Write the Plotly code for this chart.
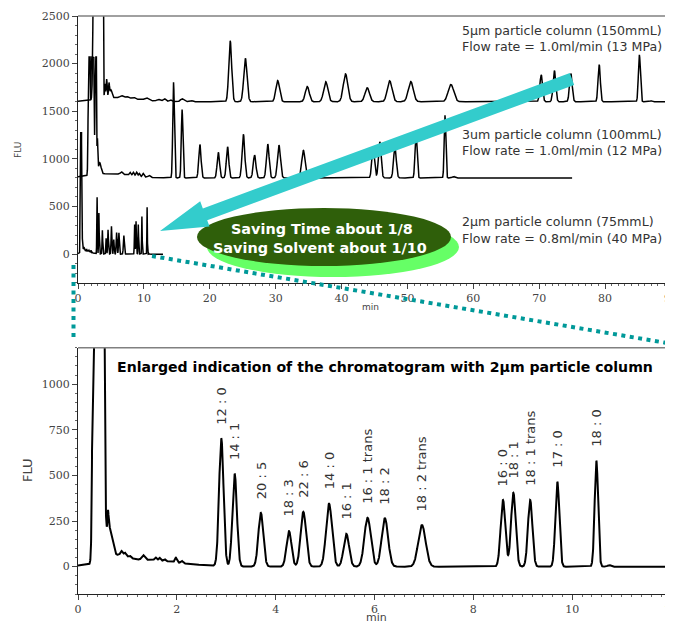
import numpy as np
import plotly.graph_objects as go

# ---------------- data ----------------
# 2 µm particle column – identified fatty-acid peaks (enlarged chromatogram)
FA_LABELS = ["12 : 0", "14 : 1", "20 : 5", "18 : 3", "22 : 6", "14 : 0", "16 : 1",
             "16 : 1 trans", "18 : 2", "18 : 2 trans", "16 : 0", "18 : 1",
             "18 : 1 trans", "17 : 0", "18 : 0"]
FA_TIMES = [2.90, 3.17, 3.70, 4.27, 4.56, 5.08, 5.43, 5.86, 6.21, 6.96, 8.60, 8.81, 9.15, 9.70, 10.49]
FA_HEIGHTS = [700, 508, 295, 195, 300, 345, 180, 268, 265, 228, 365, 405, 365, 465, 580]
FA_SIGMAS = [0.045, 0.045, 0.05, 0.05, 0.055, 0.06, 0.055, 0.065, 0.065, 0.075, 0.047, 0.047, 0.045, 0.04, 0.035]
# 2 µm solvent front and small baseline disturbances
FRONT2_TIMES = [0.33, 0.42, 0.50, 0.607, 0.62, 0.73, 0.85, 0.88, 0.95, 1.05, 1.3, 1.32, 1.57, 1.65, 1.75, 1.98, 2.10, 10.75]
FRONT2_HEIGHTS = [3000, 3000, 3000, 90, 190, 25, 35, 20, 15, 10, 38, 25, 15, 15, 10, 25, 12, 8]
FRONT2_SIGMAS = [0.025, 0.05, 0.025, 0.01, 0.06, 0.02, 0.15, 0.02, 0.02, 0.02, 0.7, 0.03, 0.02, 0.02, 0.02, 0.02, 0.02, 0.03]
RUN2_END = 12.9
SAT2 = 1500
TOP2_SCALE = 0.85

# 3 µm particle column
C3_TIMES = [14.5, 15.8, 18.5, 21.3, 22.7, 25.1, 26.8, 28.8, 30.5, 34.2, 44.8, 45.8, 48.1, 51.3, 55.7]
C3_HEIGHTS = [1005, 717, 351, 268, 327, 459, 240, 355, 344, 292, 327, 380, 327, 466, 658]
C3_SIGMAS = [0.12, 0.12, 0.17, 0.18, 0.18, 0.2, 0.2, 0.2, 0.22, 0.25, 0.2, 0.2, 0.2, 0.15, 0.12]
FRONT3_TIMES = [1.7, 2.2, 2.7, 2.95, 3.3, 5.0, 6.6, 7.9, 8.4, 8.9, 9.3, 9.9, 10.8, 57.0]
FRONT3_HEIGHTS = [3000, 3000, 3000, 350, 120, 45, 25, 30, 35, 40, 30, 35, 20, 15]
FRONT3_SIGMAS = [0.1, 0.15, 0.07, 0.06, 0.2, 3.0, 0.15, 0.12, 0.12, 0.12, 0.1, 0.12, 0.15, 0.2]
C3_OFFSET = 800
C3_END = 75
SAT3 = 1270

# 5 µm particle column
C5_TIMES = [23.1, 25.4, 30.3, 34.8, 37.6, 40.6, 43.9, 47.3, 50.5, 56.6, 70.3, 72.3, 74.8, 79.1, 85.2]
C5_HEIGHTS = [640, 457, 223, 160, 210, 293, 147, 220, 213, 182, 283, 328, 295, 390, 492]
C5_SIGMAS = [0.22, 0.25, 0.28, 0.3, 0.32, 0.34, 0.34, 0.36, 0.38, 0.42, 0.2, 0.2, 0.2, 0.17, 0.15]
FRONT5_TIMES = [2.5, 3.0, 3.5, 3.75, 4.1, 4.35, 4.7, 5.0, 6.0, 6.6, 7.4, 8.4, 10.4, 12.2, 13.1, 14.0, 15.8, 17.1, 87.0]
FRONT5_HEIGHTS = [3000, 3000, 3000, 2000, 150, 200, 150, 80, 45, 20, 15, 15, 25, 20, 30, 20, 30, 15, 10]
FRONT5_SIGMAS = [0.15, 0.15, 0.15, 0.05, 0.06, 0.08, 0.08, 0.15, 3.0, 0.2, 0.2, 0.2, 0.3, 0.25, 0.2, 0.2, 0.25, 0.25, 0.15]
C5_OFFSET = 1600
C5_END = 90

COLUMN_TEXT = [("5µm particle column (150mmL)", "Flow rate = 1.0ml/min (13 MPa)"),
               ("3um particle column (100mmL)", "Flow rate = 1.0ml/min (12 MPa)"),
               ("2µm particle column (75mmL)", "Flow rate = 0.8ml/min (40 MPa)")]
SAVING_TEXT = ["Saving Time about 1/8", "Saving Solvent about 1/10"]
ENLARGED_TITLE = "Enlarged indication of the chromatogram with 2µm particle column"


def chrom(t, times, heights, sigmas):
    s = np.zeros_like(t)
    for c, h, w in zip(times, heights, sigmas):
        s += h * np.exp(-0.5 * ((t - c) / w) ** 2)
    return s


t2 = np.arange(0, RUN2_END, 0.002)
y2 = chrom(t2, FA_TIMES, FA_HEIGHTS, FA_SIGMAS) + chrom(t2, FRONT2_TIMES, FRONT2_HEIGHTS, FRONT2_SIGMAS)
y2 = np.minimum(y2, SAT2)

t3 = np.arange(0, C3_END, 0.01)
y3 = chrom(t3, C3_TIMES, C3_HEIGHTS, C3_SIGMAS) + chrom(t3, FRONT3_TIMES, FRONT3_HEIGHTS, FRONT3_SIGMAS)
y3 = np.minimum(y3, SAT3) + C3_OFFSET

t5 = np.arange(0, C5_END, 0.01)
y5 = chrom(t5, C5_TIMES, C5_HEIGHTS, C5_SIGMAS) + chrom(t5, FRONT5_TIMES, FRONT5_HEIGHTS, FRONT5_SIGMAS)
y5 = np.minimum(y5, SAT3 * 2) + C5_OFFSET

# ---------------- layout geometry (page pixels; page has an 8px body margin) ----------------
OFF = 8
W, H = 673 - OFF, 623 - OFF
ML, MR, MT, MB = 78 - OFF, 2, 16 - OFF, 29
PW, PH = W - ML - MR, H - MT - MB
BOTTOM_PX = 594.0


def px(xp, yp):
    return (xp - 78.0) / PW, (BOTTOM_PX - yp) / PH


TOP_DOM = [px(0, 282.7)[1], 1.0]
BOT_DOM = [0.0, px(0, 347.7)[1]]

SANS = "DejaVu Sans"
SERIF = "DejaVu Serif"
TXT = "#333333"

fig = go.Figure()
line = dict(color="black", width=1.5)
fig.add_trace(go.Scatter(x=t5, y=y5, mode="lines", line=line, xaxis="x", yaxis="y", hoverinfo="skip"))
fig.add_trace(go.Scatter(x=t3, y=y3, mode="lines", line=line, xaxis="x", yaxis="y", hoverinfo="skip"))
fig.add_trace(go.Scatter(x=t2, y=y2 * TOP2_SCALE, mode="lines", line=line, xaxis="x", yaxis="y", hoverinfo="skip"))
fig.add_trace(go.Scatter(x=t2, y=y2, mode="lines", line=dict(color="black", width=2),
                         xaxis="x2", yaxis="y2", hoverinfo="skip"))

axcommon = dict(showgrid=False, zeroline=False, showline=True, linecolor="#222222", linewidth=1,
                ticks="outside", ticklen=5, tickcolor="#444444", ticklabeloverflow="allow",
                automargin=False, tickfont=dict(family=SERIF, size=11, color="#444444"))
fig.update_layout(
    width=W, height=H, margin=dict(l=ML, r=MR, t=MT, b=MB, autoexpand=False),
    paper_bgcolor="white", plot_bgcolor="white", showlegend=False,
    xaxis=dict(domain=[0, 1], range=[0, 90], anchor="y", tickvals=list(range(0, 91, 10)),
               minor=dict(dtick=1, ticklen=2, ticks="outside", tickcolor="#666"), **axcommon),
    yaxis=dict(domain=TOP_DOM, range=[-300, 2500], anchor="x", tickvals=[0, 500, 1000, 1500, 2000, 2500],
               minor=dict(dtick=100, ticklen=2, ticks="outside", tickcolor="#666"), **axcommon),
    xaxis2=dict(domain=[0, 1], range=[0, 12], anchor="y2", tickvals=list(range(0, 13, 2)),
                minor=dict(dtick=0.2, ticklen=2, ticks="outside", tickcolor="#666"), **axcommon),
    yaxis2=dict(domain=BOT_DOM, range=[-150, 1200], anchor="x2", tickvals=[0, 250, 500, 750, 1000],
                minor=dict(dtick=50, ticklen=2, ticks="outside", tickcolor="#666"), **axcommon),
)

shapes = []
# frames (top / right in gray)
for dom in (TOP_DOM, BOT_DOM):
    shapes.append(dict(type="line", xref="paper", yref="paper", x0=0, x1=1, y0=dom[1], y1=dom[1],
                       line=dict(color="#808080", width=1.5)))
    shapes.append(dict(type="line", xref="paper", yref="paper", x0=1, x1=1, y0=dom[0], y1=dom[1],
                       line=dict(color="#808080", width=1.5)))

# ellipses
x0, y0 = px(207, 217); x1, y1 = px(459, 277)
shapes.append(dict(type="circle", xref="paper", yref="paper", x0=x0, x1=x1, y0=y0, y1=y1,
                   fillcolor="#66FF66", line=dict(width=0), layer="above"))
x0, y0 = px(197, 208); x1, y1 = px(451, 266)
shapes.append(dict(type="circle", xref="paper", yref="paper", x0=x0, x1=x1, y0=y0, y1=y1,
                   fillcolor="#2F5F0A", line=dict(width=0), layer="above"))

# teal arrow polygon
T = np.array([572.0, 79.0]); P = np.array([160.0, 231.0])
d = (P - T) / np.linalg.norm(P - T)
n = np.array([-d[1], d[0]])
if n[1] < 0:
    n = -n
Hc = P - 48 * d
pts = [T + 6.3 * n, Hc + 6.3 * n, Hc + 13 * n, P, Hc - 14 * n, Hc - 6.3 * n, T - 6.3 * n]
path = "M " + " L ".join("%.5f,%.5f" % px(*p) for p in pts) + " Z"
shapes.append(dict(type="path", xref="paper", yref="paper", path=path, fillcolor="#33CCCC",
                   line=dict(width=0), layer="above"))

# dotted zoom lines
a0 = px(152, 256); a1 = px(673, 344)
shapes.append(dict(type="line", xref="paper", yref="paper", x0=a0[0], y0=a0[1], x1=a1[0], y1=a1[1],
                   line=dict(color="#009999", width=4, dash="4px,4.5px"), layer="above"))
b0 = px(73.5, 265); b1 = px(73.5, 340)
shapes.append(dict(type="line", xref="paper", yref="paper", x0=b0[0], y0=b0[1], x1=b1[0], y1=b1[1],
                   line=dict(color="#009999", width=4, dash="4px,4.5px"), layer="above"))
fig.update_layout(shapes=shapes)

ann = []
# peak labels
for lab, tm, h in zip(FA_LABELS, FA_TIMES, FA_HEIGHTS):
    ann.append(dict(x=tm, y=h, xref="x2", yref="y2", text=lab, textangle=-90, showarrow=False,
                    xanchor="center", yanchor="bottom", yshift=12,
                    font=dict(family=SANS, size=13, color=TXT)))
# column texts
ys = [(31, 46.5), (134, 150), (221.5, 238.5)]
for (l1, l2), (ya, yb) in zip(COLUMN_TEXT, ys):
    for txt, yy in ((l1, ya), (l2, yb)):
        xx, yp = px(459.5, yy)
        ann.append(dict(x=xx, y=yp, xref="paper", yref="paper", text=txt, showarrow=False,
                        xanchor="left", yanchor="middle", font=dict(family=SANS, size=12.6, color=TXT)))
# saving texts
for txt, (xx, yy) in zip(SAVING_TEXT, [(322, 229), (320, 248)]):
    a, b = px(xx, yy)
    ann.append(dict(x=a, y=b, xref="paper", yref="paper", text="<b>%s</b>" % txt, showarrow=False,
                    xanchor="center", yanchor="middle", font=dict(family=SANS, size=14.4, color="white")))
# enlarged title
a, b = px(384.5, 367)
ann.append(dict(x=a, y=b, xref="paper", yref="paper", text="<b>%s</b>" % ENLARGED_TITLE, showarrow=False,
                xanchor="center", yanchor="middle", font=dict(family=SANS, size=14.1, color="black")))
# axis titles
for txt, (xx, yy), sz, ang in [("FLU", (18, 150), 9, -90), ("min", (370, 307), 9, 0),
                               ("FLU", (27, 470), 13, -90), ("min", (376, 617.5), 11, 0)]:
    a, b = px(xx, yy)
    ann.append(dict(x=a, y=b, xref="paper", yref="paper", text=txt, showarrow=False, textangle=ang,
                    xanchor="center", yanchor="middle", font=dict(family=SANS, size=sz, color="#444444")))
fig.update_layout(annotations=ann)

fig.write_html("out.html")
